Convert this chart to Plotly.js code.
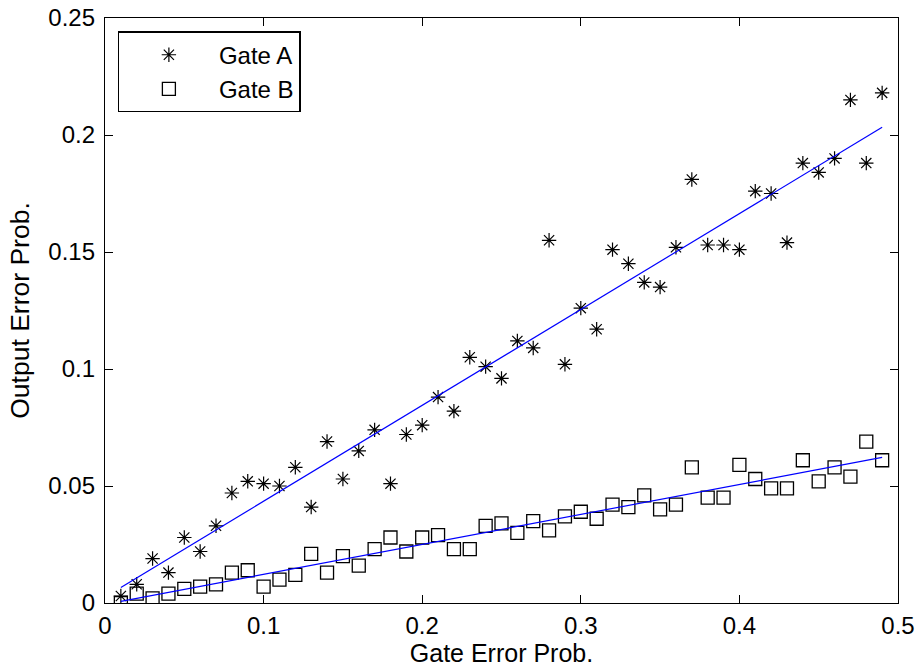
<!DOCTYPE html>
<html>
<head>
<meta charset="utf-8">
<script src="https://cdn.plot.ly/plotly-3.0.1.min.js"></script>
<style>html,body{margin:0;padding:0;background:#fff;}#chart{width:919px;height:671px;}</style>
</head>
<body>
<div id="chart"></div>
<script>
const gateProb = [0.01,0.02,0.03,0.04,0.05,0.06,0.07,0.08,0.09,0.10,
  0.11,0.12,0.13,0.14,0.15,0.16,0.17,0.18,0.19,0.20,
  0.21,0.22,0.23,0.24,0.25,0.26,0.27,0.28,0.29,0.30,
  0.31,0.32,0.33,0.34,0.35,0.36,0.37,0.38,0.39,0.40,
  0.41,0.42,0.43,0.44,0.45,0.46,0.47,0.48,0.49];
const gateA = [0.003,0.008,0.019,0.013,0.028,0.022,0.033,0.047,0.052,0.051,
  0.050,0.058,0.041,0.069,0.053,0.065,0.074,0.051,0.072,0.076,
  0.088,0.082,0.105,0.101,0.096,0.112,0.109,0.155,0.102,0.126,
  0.117,0.151,0.145,0.137,0.135,0.152,0.181,0.153,0.153,0.151,
  0.176,0.175,0.154,0.188,0.184,0.190,0.215,0.188,0.218];
const gateB = [0.000,0.004,0.002,0.004,0.006,0.007,0.008,0.013,0.014,0.007,
  0.010,0.012,0.021,0.013,0.020,0.016,0.023,0.028,0.022,0.028,
  0.029,0.023,0.023,0.033,0.034,0.030,0.035,0.031,0.037,0.039,
  0.036,0.042,0.041,0.046,0.040,0.042,0.058,0.045,0.045,0.059,
  0.053,0.049,0.049,0.061,0.052,0.058,0.054,0.069,0.061];
const fitX = [0.01, 0.49];
const fitA = [0.0066, 0.2033];
const fitB = [0.0007, 0.0622];
const xTicks = [0, 0.1, 0.2, 0.3, 0.4, 0.5];
const xTickText = ['0', '0.1', '0.2', '0.3', '0.4', '0.5'];
const yTicks = [0, 0.05, 0.1, 0.15, 0.2, 0.25];
const yTickText = ['0', '0.05', '0.1', '0.15', '0.2', '0.25'];

const fam = 'Liberation Sans, Arial, Helvetica, sans-serif';
const tickFont = {family: fam, size: 24, color: '#000'};
const xTitleFont = {family: fam, size: 25, color: '#000'};
const yTitleFont = {family: fam, size: 26.5, color: '#000'};

const traces = [
  {x: gateProb, y: gateA, type: 'scatter', mode: 'markers', name: 'Gate A',
   marker: {symbol: 'asterisk-open', size: 12, color: '#000', line: {color: '#000', width: 1.2}}},
  {x: gateProb, y: gateB, type: 'scatter', mode: 'markers', name: 'Gate B',
   marker: {symbol: 'square-open', size: 13, color: '#000', line: {color: '#000', width: 1.3}}},
  {x: fitX, y: fitA, type: 'scatter', mode: 'lines', showlegend: false,
   line: {color: '#0000ff', width: 1.2}},
  {x: fitX, y: fitB, type: 'scatter', mode: 'lines', showlegend: false,
   line: {color: '#0000ff', width: 1.2}}
];

const axisCommon = {
  showline: true, linecolor: '#000', linewidth: 1.2, mirror: 'ticks',
  ticks: 'inside', ticklen: 8, tickwidth: 1, tickcolor: '#000',
  showgrid: false, zeroline: false, tickfont: tickFont, automargin: false
};

const layout = {
  width: 919, height: 671,
  margin: {l: 105, r: 21, t: 18, b: 68},
  paper_bgcolor: '#fff', plot_bgcolor: '#fff',
  font: tickFont,
  xaxis: Object.assign({}, axisCommon, {
    range: [0, 0.5], tickvals: xTicks, ticktext: xTickText, ticklabelstandoff: 1,
    title: {text: 'Gate Error Prob.', font: xTitleFont, standoff: 0}
  }),
  yaxis: Object.assign({}, axisCommon, {
    range: [0, 0.25], tickvals: yTicks, ticktext: yTickText, ticklabelstandoff: 4,
    title: {text: 'Output Error Prob.', font: yTitleFont, standoff: 11}
  }),
  legend: {x: 0.016, y: 0.977, xanchor: 'left', yanchor: 'top',
    bordercolor: '#000', borderwidth: 1.2, bgcolor: '#fff', font: tickFont,
    itemwidth: 90, tracegroupgap: 0},
  showlegend: true
};

Plotly.newPlot('chart', traces, layout, {staticPlot: true});
</script>
</body>
</html>
